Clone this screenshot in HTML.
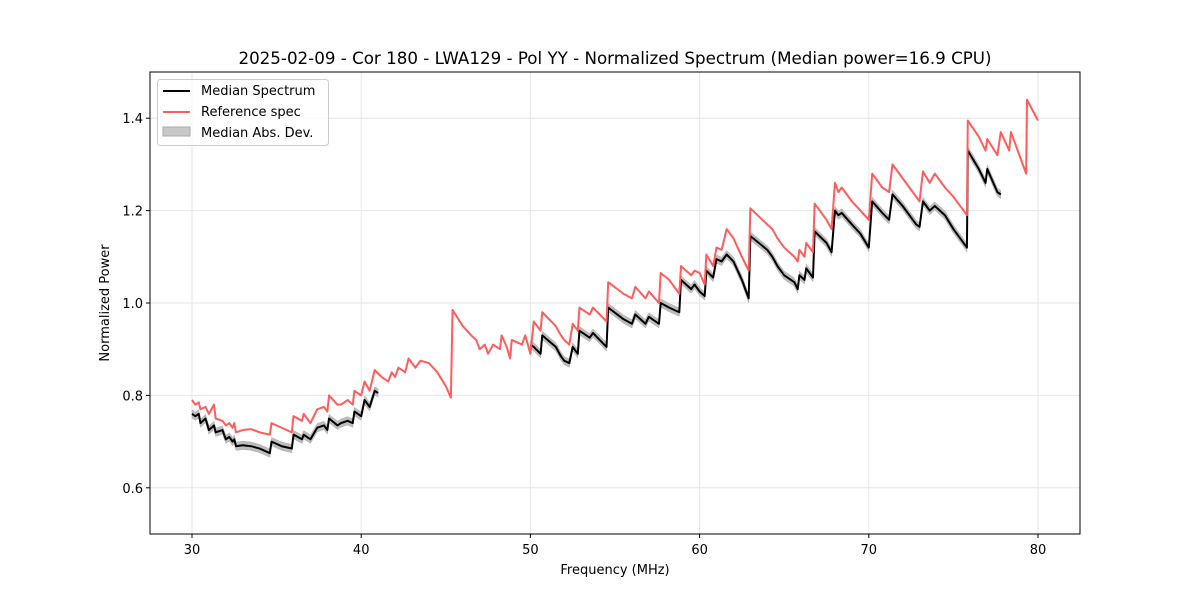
<!DOCTYPE html>
<html><head><meta charset="utf-8"><style>
body{margin:0;background:#fff;font-family:"DejaVu Sans","Liberation Sans",sans-serif;}
svg text{font-family:"DejaVu Sans","Liberation Sans",sans-serif;}
</style></head><body>
<svg id="chart" width="1200" height="600">
<rect width="1200" height="600" fill="#fff"/>
<g id="grid"></g>
<g id="marks"></g>
<rect x="150" y="72" width="930" height="462" fill="none" stroke="#000" stroke-width="1"/>
<g id="ticks" font-size="13"></g>
<text x="615" y="64" text-anchor="middle" font-size="16.7">2025-02-09 - Cor 180 - LWA129 - Pol YY - Normalized Spectrum (Median power=16.9 CPU)</text>
<text x="615" y="574" text-anchor="middle" font-size="13">Frequency (MHz)</text>
<text transform="translate(109,303) rotate(-90)" text-anchor="middle" font-size="13">Normalized Power</text>
<g>
<rect x="157.5" y="79.5" width="171" height="66" rx="3" fill="#fff" fill-opacity="0.8" stroke="#ccc"/>
<g><line x1="163" y1="91" x2="190" y2="91" stroke="#000" stroke-width="2"/><text x="201" y="95" font-size="13">Median Spectrum</text></g>
<g><line x1="163" y1="112" x2="190" y2="112" stroke="#ff5c5c" stroke-width="2"/><text x="201" y="116" font-size="13">Reference spec</text></g>
<g><rect x="163" y="127" width="27" height="9" fill="#c8c8c8" stroke="#aaa"/><text x="201" y="137" font-size="13">Median Abs. Dev.</text></g>
</g>
</svg>
<script>
const refFreq=[30.0,30.2,30.4,30.5,30.8,31.0,31.3,31.4,31.8,32.0,32.2,32.4,32.5,32.6,33,33.5,34,34.6,34.7,35.3,35.9,36.0,36.5,36.6,37,37.4,37.8,38.0,38.1,38.6,38.8,39.2,39.5,39.6,40,40.2,40.5,40.8,41.2,41.6,41.8,42.0,42.2,42.6,42.8,43.2,43.5,44,44.5,45.0,45.3,45.4,46,46.5,46.8,47,47.3,47.5,47.8,48.2,48.3,48.6,48.8,48.9,49.5,49.7,50,50.2,50.6,50.7,51.5,51.8,52.0,52.3,52.5,52.8,52.9,53.5,53.7,54.5,54.6,55.5,56.0,56.2,56.8,57.0,57.6,57.7,58.2,58.8,58.9,59.5,59.7,60,60.3,60.4,60.8,61.0,61.3,61.6,62.0,62.5,62.9,63.0,64,64.3,64.6,65,65.6,65.8,65.9,66.2,66.3,66.7,66.8,67.5,67.8,68.0,68.2,68.4,69,69.5,70,70.2,70.8,71.2,71.4,72,72.8,73.0,73.2,73.6,73.9,74.5,75.0,75.8,75.85,76.5,76.9,77.0,77.6,77.8,78.3,78.4,79.3,79.35,80];
const refVal=[0.79,0.78,0.785,0.77,0.775,0.76,0.78,0.75,0.745,0.735,0.74,0.73,0.74,0.72,0.725,0.727,0.72,0.715,0.74,0.73,0.72,0.755,0.745,0.76,0.74,0.77,0.775,0.765,0.80,0.78,0.78,0.79,0.78,0.81,0.8,0.83,0.81,0.855,0.84,0.83,0.85,0.84,0.86,0.85,0.88,0.86,0.875,0.87,0.85,0.82,0.795,0.985,0.95,0.93,0.92,0.9,0.91,0.89,0.91,0.9,0.93,0.905,0.88,0.92,0.91,0.93,0.89,0.96,0.94,0.98,0.95,0.93,0.92,0.91,0.955,0.94,0.99,0.975,0.99,0.96,1.045,1.02,1.01,1.035,1.01,1.025,1.00,1.065,1.05,1.02,1.08,1.06,1.07,1.065,1.04,1.105,1.08,1.12,1.115,1.16,1.14,1.10,1.07,1.205,1.17,1.16,1.14,1.12,1.10,1.09,1.115,1.10,1.13,1.11,1.215,1.18,1.16,1.26,1.24,1.25,1.22,1.20,1.18,1.28,1.25,1.24,1.30,1.27,1.23,1.22,1.285,1.26,1.28,1.25,1.23,1.19,1.395,1.36,1.33,1.355,1.32,1.37,1.33,1.37,1.28,1.44,1.395];
const medFreqA=[30.0,30.2,30.4,30.5,30.8,31.0,31.3,31.4,31.8,32.0,32.2,32.4,32.5,32.6,33,33.5,34,34.6,34.7,35.3,35.9,36.0,36.5,36.6,37,37.4,37.8,38.0,38.1,38.6,38.8,39.2,39.5,39.6,40,40.2,40.5,40.8,41.0];
const medValA=[0.76,0.755,0.76,0.74,0.75,0.725,0.735,0.72,0.725,0.705,0.71,0.7,0.705,0.69,0.692,0.69,0.685,0.675,0.7,0.69,0.685,0.715,0.705,0.715,0.705,0.73,0.735,0.725,0.75,0.735,0.74,0.745,0.74,0.765,0.755,0.79,0.775,0.81,0.805];
const medFreqB=[50.0,50.2,50.6,50.7,51.5,51.8,52.0,52.3,52.5,52.8,52.9,53.5,53.7,54.5,54.6,55.5,56.0,56.2,56.8,57.0,57.6,57.7,58.2,58.8,58.9,59.5,59.7,60,60.3,60.4,60.8,61.0,61.3,61.6,62.0,62.5,62.9,63.0,64,64.3,64.6,65,65.6,65.8,65.9,66.2,66.3,66.7,66.8,67.5,67.8,68.0,68.2,68.4,69,69.5,70,70.2,70.8,71.2,71.4,72,72.8,73.0,73.2,73.6,73.9,74.5,75.0,75.8,75.85,76.5,76.9,77.0,77.6,77.8];
const medValB=[0.91,0.905,0.89,0.93,0.905,0.885,0.875,0.87,0.905,0.89,0.94,0.925,0.935,0.905,0.99,0.965,0.955,0.975,0.955,0.97,0.955,1.0,0.99,0.98,1.05,1.03,1.04,1.025,1.015,1.07,1.055,1.095,1.09,1.105,1.09,1.05,1.01,1.145,1.115,1.1,1.08,1.06,1.045,1.03,1.06,1.05,1.075,1.055,1.155,1.13,1.11,1.2,1.19,1.195,1.17,1.15,1.12,1.22,1.195,1.18,1.235,1.21,1.17,1.165,1.22,1.2,1.21,1.19,1.16,1.12,1.33,1.29,1.26,1.29,1.24,1.235];
const madWidth=0.009;
const xTicks=[30,40,50,60,70,80];
const yTicks=[0.6,0.8,1.0,1.2,1.4];

const NS="http://www.w3.org/2000/svg";
const X=f=>192+(f-30)*16.92;
const Y=v=>534-(v-0.5)*462;
const grid=document.getElementById('grid'),marks=document.getElementById('marks'),ticks=document.getElementById('ticks');
function mk(tag,attrs,parent){const e=document.createElementNS(NS,tag);for(const k in attrs)e.setAttribute(k,attrs[k]);parent.appendChild(e);return e;}
xTicks.forEach(t=>{
  const gl=mk('line',{x1:X(t),x2:X(t),y1:72,y2:534,stroke:'#e6e6e6'},grid);
  
  
  mk('line',{x1:X(t),x2:X(t),y1:534,y2:538,stroke:'#000'},ticks);
  const tx=mk('text',{x:X(t),y:554,'text-anchor':'middle'},ticks);tx.textContent=t;
  
  
});
yTicks.forEach(t=>{
  const gl=mk('line',{x1:150,x2:1080,y1:Y(t),y2:Y(t),stroke:'#e6e6e6'},grid);
  
  
  mk('line',{x1:146,x2:150,y1:Y(t),y2:Y(t),stroke:'#000'},ticks);
  const tx=mk('text',{x:143,y:Y(t)+5,'text-anchor':'end'},ticks);tx.textContent=t.toFixed(1);
  
  
});
function band(fs,vs){
  let up=fs.map((f,i)=>X(f)+','+Y(vs[i]+madWidth)).join(' ');
  let dn=fs.map((f,i)=>X(f)+','+Y(vs[i]-madWidth)).reverse().join(' ');
  const p=mk('polygon',{points:up+' '+dn,fill:'#bdbdbd',stroke:'#aaa','stroke-width':0.5},marks);
  
  
}
function line(fs,vs,color,name){
  const p=mk('polyline',{points:fs.map((f,i)=>X(f)+','+Y(vs[i])).join(' '),fill:'none',stroke:color,'stroke-width':2,'stroke-linejoin':'round'},marks);
  
  
}
band(medFreqA,medValA);band(medFreqB,medValB);
line(medFreqA,medValA,'#000','median-spectrum-line-low');
line(medFreqB,medValB,'#000','median-spectrum-line-high');
line(refFreq,refVal,'#ff5c5c','reference-spectrum-line');
</script>
</body></html>
